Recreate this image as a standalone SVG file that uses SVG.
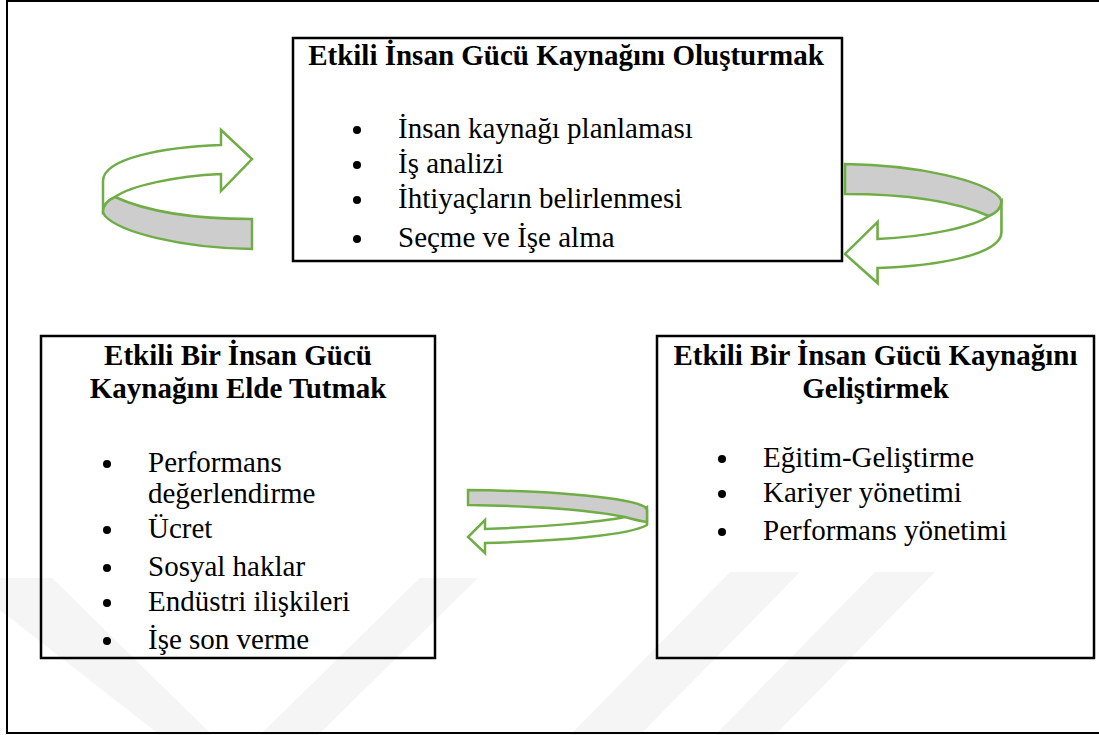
<svg xmlns="http://www.w3.org/2000/svg" width="1099" height="735" viewBox="0 0 1099 735">
  <defs>
    <style>
      .frame { fill: none; stroke: #000; stroke-width: 2; }
      .box { fill: none; stroke: #000; stroke-width: 2.5; }
      .title { font-family: "Liberation Serif", "Times New Roman", serif; font-size: 29px; font-weight: bold; fill: #000; text-anchor: middle; }
      .item { font-family: "Liberation Serif", "Times New Roman", serif; font-size: 29px; fill: #000; }
      .dot { fill: #000; }
      .band { fill: #fff; stroke: #70AD47; stroke-width: 2.5; stroke-linejoin: miter; }
      .front { fill: #CDCDCD; stroke: #70AD47; stroke-width: 2.5; stroke-linejoin: miter; }
      .mark { fill: #F5F5F5; }
    </style>
    <!-- curved 3-D arrow: back strip with head, then the grey front strip -->
    <g id="curl">
      <path class="band" d="M103,212 L103,181 C103,158 165,147 221,145 L221,130 L252,159 L221,191 L221,174 C175,176 130,186 115,197 Z"/>
      <path class="front" d="M115,197 C150,213 200,219 252,219 L252,249 C180,248 120,232 105,216 L103,212 C103,205 108,200 115,197 Z"/>
    </g>
  </defs>

  <rect width="1099" height="735" fill="#fff"/>

  <!-- faint background watermark -->
  <g id="watermark">
    <polygon class="mark" points="0,578 52,578 212,735 160,735 0,610"/>
    <polygon class="mark" points="420,578 478,578 318,735 260,735"/>
    <polygon class="mark" points="730,572 800,572 640,735 570,735"/>
    <polygon class="mark" points="875,572 935,572 775,735 715,735"/>
  </g>

  <rect class="frame" x="7" y="1" width="1096" height="732"/>

  <!-- nodes -->
  <g id="node-olusturmak">
    <rect class="box" x="293" y="38" width="549" height="223"/>
    <text class="title" x="566" y="65">Etkili İnsan Gücü Kaynağını Oluşturmak</text>
    <circle class="dot" cx="357" cy="130" r="4"/>
    <circle class="dot" cx="357" cy="165" r="4"/>
    <circle class="dot" cx="357" cy="200" r="4"/>
    <circle class="dot" cx="357" cy="239" r="4"/>
    <text class="item" x="398" y="138">İnsan kaynağı planlaması</text>
    <text class="item" x="398" y="173">İş analizi</text>
    <text class="item" x="398" y="208">İhtiyaçların belirlenmesi</text>
    <text class="item" x="398" y="247">Seçme ve İşe alma</text>
  </g>

  <g id="node-elde-tutmak">
    <rect class="box" x="41" y="336" width="394" height="322"/>
    <text class="title" x="238" y="365">Etkili Bir İnsan Gücü</text>
    <text class="title" x="238" y="398">Kaynağını Elde Tutmak</text>
    <circle class="dot" cx="107" cy="464" r="4"/>
    <circle class="dot" cx="107" cy="530" r="4"/>
    <circle class="dot" cx="107" cy="568" r="4"/>
    <circle class="dot" cx="107" cy="603" r="4"/>
    <circle class="dot" cx="107" cy="641" r="4"/>
    <text class="item" x="148" y="472">Performans</text>
    <text class="item" x="148" y="503">değerlendirme</text>
    <text class="item" x="148" y="538">Ücret</text>
    <text class="item" x="148" y="576">Sosyal haklar</text>
    <text class="item" x="148" y="611">Endüstri ilişkileri</text>
    <text class="item" x="148" y="649">İşe son verme</text>
  </g>

  <g id="node-gelistirmek">
    <rect class="box" x="657" y="336" width="437" height="322"/>
    <text class="title" x="875.5" y="365">Etkili Bir İnsan Gücü Kaynağını</text>
    <text class="title" x="875.5" y="398">Geliştirmek</text>
    <circle class="dot" cx="722" cy="459" r="4"/>
    <circle class="dot" cx="722" cy="494" r="4"/>
    <circle class="dot" cx="722" cy="532" r="4"/>
    <text class="item" x="763" y="467">Eğitim-Geliştirme</text>
    <text class="item" x="763" y="502">Kariyer yönetimi</text>
    <text class="item" x="763" y="540">Performans yönetimi</text>
  </g>

  <!-- connectors: curved cycle arrows -->
  <g id="connectors">
    <use href="#curl"/>
    <use href="#curl" transform="matrix(-1.05,0,0,-1,1109.6,413)"/>
    <g id="curl-bottom">
      <path class="band" d="M647,507 L647,525 C630,535 560,541 485,543 L485,553 L468,537 L485,520 L485,529 C545,527 600,522 625,517 Z"/>
      <path class="front" d="M468,490 C560,491 630,498 645,507 L647,510 L647,522 C640,521 632,519 625,517 C590,510 530,506 468,505 Z"/>
    </g>
  </g>
</svg>
